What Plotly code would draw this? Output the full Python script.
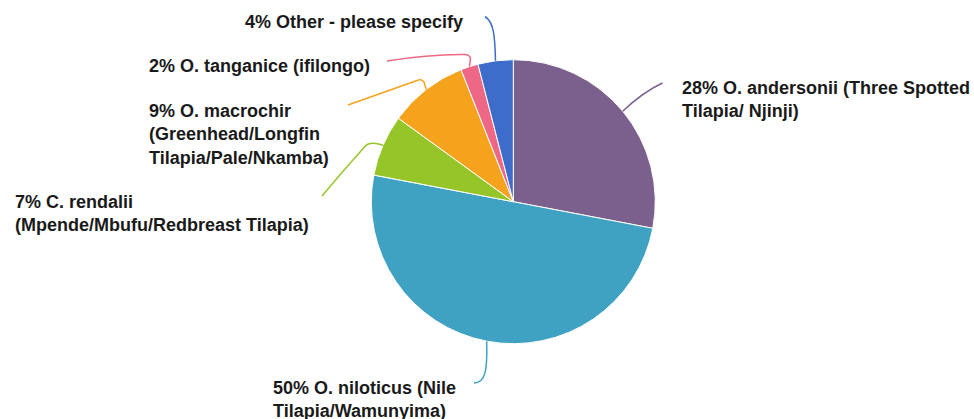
import math
import plotly.graph_objects as go

# Tilapia species share (percent), clockwise from 12 o'clock
species = [
    "O. andersonii (Three Spotted<br>Tilapia/ Njinji)",
    "O. niloticus (Nile<br>Tilapia/Wamunyima)",
    "C. rendalii<br>(Mpende/Mbufu/Redbreast Tilapia)",
    "O. macrochir<br>(Greenhead/Longfin<br>Tilapia/Pale/Nkamba)",
    "O. tanganice (ifilongo)",
    "Other - please specify",
]
shares = [28, 50, 7, 9, 2, 4]
colors = ["#7B5F8D", "#40A2C2", "#96C52A", "#F5A31D", "#EE6784", "#3D6CCB"]

W, H = 974, 419
CX, CY, R = 513.3, 201.7, 142.0  # pie centre / radius in pixels

# label anchor (left edge, vertical middle) and leader-line routing in pixels
label_pos = [(680, 100), (271, 399), (13, 213), (147, 134), (147, 66), (243, 22)]
leader_route = [
    "Q 643,92 662.5,83",
    "C 487.5,370 485.5,383 474,383",
    "Q 369,140.5 364,147.5 Q 342,172 322,196",
    "L 424,82 Q 421.5,78.5 417,80.5 L 348,105",
    "L 470.5,58 Q 469,54.5 465,54.5 Q 430,54 387,61",
    "C 495,35 493.5,22 485,16.5",
]


def px(x):
    return x / W


def py(y):
    return 1 - y / H


def to_paper(path):
    # convert "x,y" pixel pairs inside an SVG path string to paper fractions
    out = []
    for tok in path.split():
        if "," in tok:
            x, y = (float(v) for v in tok.split(","))
            out.append(f"{px(x):.5f},{py(y):.5f}")
        else:
            out.append(tok)
    return " ".join(out)


fig = go.Figure(
    go.Pie(
        values=shares,
        labels=[s.replace("<br>", " ") for s in species],
        marker=dict(colors=colors, line=dict(color="white", width=1)),
        sort=False,
        direction="clockwise",
        rotation=0,
        textinfo="none",
        hoverinfo="label+percent",
        showlegend=False,
        domain=dict(x=[px(CX - R), px(CX + R)], y=[py(CY + R), py(CY - R)]),
    )
)

total = sum(shares)
shapes, annotations = [], []
cum = 0
for name, val, col, (lx, ly), route in zip(species, shares, colors, label_pos, leader_route):
    mid = (cum + val / 2) / total * 2 * math.pi
    cum += val
    sx = CX + R * math.sin(mid)
    sy = CY - R * math.cos(mid)
    path = to_paper(f"M {sx:.2f},{sy:.2f} {route}")
    shapes.append(dict(type="path", path=path, xref="paper", yref="paper",
                       line=dict(color=col, width=1.5)))
    text = "<br>".join(f"<b>{ln}</b>" for ln in f"{val}% {name}".split("<br>"))
    annotations.append(dict(
        text=text, x=px(lx), y=py(ly), xref="paper", yref="paper",
        xanchor="left", yanchor="middle", align="left", showarrow=False,
        font=dict(family="Liberation Sans, Arial, sans-serif", size=18, color="#1a1a1a"),
    ))

fig.update_layout(
    width=W, height=H,
    margin=dict(l=0, r=0, t=0, b=0),
    paper_bgcolor="white", plot_bgcolor="white",
    shapes=shapes, annotations=annotations,
)

fig.write_html("out.html")
